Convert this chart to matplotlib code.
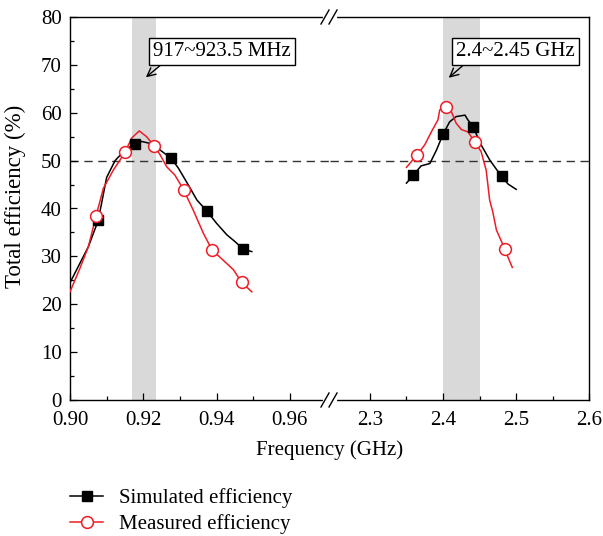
import matplotlib
matplotlib.use("Agg")
import matplotlib.pyplot as plt
from matplotlib.lines import Line2D

plt.rcParams['font.family'] = ['Liberation Serif', 'DejaVu Serif']
plt.rcParams['font.size'] = 15

# ---- 900 MHz band ----
low_sim_f = [0.9000, 0.9050, 0.9077, 0.9100, 0.9123, 0.9150, 0.9177, 0.9196, 0.9218,
             0.9246, 0.9276, 0.9296, 0.9323, 0.9346, 0.9373, 0.9400, 0.9428, 0.9450,
             0.9473, 0.9496]
low_sim_v = [24.5, 32.0, 37.5, 46.5, 50.0, 52.2, 53.5, 54.0, 53.6,
             52.2, 50.5, 48.4, 44.9, 41.8, 39.5, 36.9, 34.5, 33.1,
             31.5, 31.0]
low_sim_mark_f = [0.9077, 0.9177, 0.9276, 0.9373, 0.9473]
low_sim_mark_v = [37.5, 53.5, 50.5, 39.5, 31.5]

low_meas_f = [0.9000, 0.9027, 0.9050, 0.9071, 0.9091, 0.9118, 0.9150, 0.9168, 0.9189,
              0.9209, 0.9230, 0.9246, 0.9264, 0.9286, 0.9310, 0.9336, 0.9364, 0.9388,
              0.9418, 0.9446, 0.9468, 0.9496]
low_meas_v = [22.6, 27.5, 32.0, 38.4, 44.2, 48.0, 51.7, 54.7, 56.2,
              55.0, 53.0, 51.2, 48.7, 47.0, 43.9, 39.7, 34.8, 31.3,
              29.2, 27.2, 24.6, 22.6]
low_meas_mark_f = [0.9071, 0.9150, 0.9230, 0.9310, 0.9388, 0.9468]
low_meas_mark_v = [38.4, 51.7, 53.0, 43.9, 31.3, 24.6]

# ---- 2.4 GHz band ----
high_sim_f = [2.350, 2.359, 2.370, 2.382, 2.391, 2.400, 2.409, 2.418, 2.430, 2.434,
              2.441, 2.452, 2.464, 2.480, 2.489, 2.500]
high_sim_v = [45.3, 46.9, 48.9, 49.4, 52.2, 55.5, 58.1, 59.2, 59.5, 58.5,
              57.1, 53.3, 50.1, 46.7, 45.1, 44.0]
high_sim_mark_f = [2.359, 2.400, 2.441, 2.480]
high_sim_mark_v = [46.9, 55.5, 57.1, 46.7]

high_meas_f = [2.350, 2.3645, 2.375, 2.384, 2.393, 2.3955, 2.4046, 2.4115, 2.418, 2.425,
               2.434, 2.444, 2.452, 2.459, 2.4637, 2.468, 2.473, 2.480, 2.4842, 2.4947]
high_meas_v = [48.6, 51.2, 53.3, 56.0, 58.5, 60.6, 61.3, 60.2, 57.8, 56.5,
               56.0, 53.8, 51.9, 48.0, 41.8, 39.3, 35.5, 33.1, 31.5, 27.7]
high_meas_mark_f = [2.3645, 2.4046, 2.444, 2.4842]
high_meas_mark_v = [51.2, 61.3, 53.8, 31.5]

low_band = (0.917, 0.9235)
high_band = (2.40, 2.45)
low_ticks = [0.90, 0.92, 0.94, 0.96]
low_tick_labels = ['0.90', '0.92', '0.94', '0.96']
high_ticks = [2.3, 2.4, 2.5, 2.6]
high_tick_labels = ['2.3', '2.4', '2.5', '2.6']
y_ticks = [0, 10, 20, 30, 40, 50, 60, 70, 80]
ref_level = 50

RED = '#ee1c25'
W, H = 603, 536
fig = plt.figure(figsize=(W / 100, H / 100), dpi=100)

ax1 = fig.add_axes([70 / W, 136 / H, 260 / W, 383 / H])
ax2 = fig.add_axes([330 / W, 136 / H, 259.3 / W, 383 / H], sharey=ax1)

ax1.set_xlim(0.90, 0.90 + 260 / 3665)
ax2.set_xlim(2.3 - 40 / 733, 2.6)
ax1.set_ylim(0, 80)

for ax in (ax1, ax2):
    ax.set_facecolor('none')
    ax.tick_params(direction='in', which='major', length=5, width=0.9, top=False, right=False)
    ax.tick_params(direction='in', which='minor', length=3, width=0.9, top=False, right=False)
    ax.tick_params(axis='x', which='major', pad=8)
    ax.tick_params(axis='y', which='major', pad=6)
    for s in ax.spines.values():
        s.set_linewidth(1.0)

ax1.spines['right'].set_visible(False)
ax2.spines['left'].set_visible(False)
ax2.tick_params(axis='y', which='both', left=False, labelleft=False)

ax1.set_yticks(y_ticks)
ax1.set_yticks([v + 5 for v in y_ticks[:-1]], minor=True)
ax1.set_xticks(low_ticks)
ax1.set_xticklabels(low_tick_labels)
ax1.set_xticks([0.91, 0.93, 0.95], minor=True)
ax2.set_xticks(high_ticks)
ax2.set_xticklabels(high_tick_labels)
ax2.set_xticks([2.35, 2.45, 2.55], minor=True)

# shaded operating bands
ax1.axvspan(*low_band, color='#d9d9d9', lw=0, zorder=0)
ax2.axvspan(*high_band, color='#d9d9d9', lw=0, zorder=0)

# 50 % reference line
for ax in (ax1, ax2):
    ax.axhline(ref_level, color='#333333', lw=1.0, dashes=(6, 4), zorder=1)

# curves
ax1.plot(low_sim_f, low_sim_v, color='black', lw=1.1, zorder=3)
ax1.plot(low_meas_f, low_meas_v, color=RED, lw=1.1, zorder=3)
ax2.plot(high_sim_f, high_sim_v, color='black', lw=1.1, zorder=3)
ax2.plot(high_meas_f, high_meas_v, color=RED, lw=1.1, zorder=3)

sq = dict(ls='none', marker='s', ms=7.5, mfc='black', mec='black', zorder=4)
ci = dict(ls='none', marker='o', ms=8.5, mfc='white', mec=RED, mew=1.1, zorder=5)
ax1.plot(low_sim_mark_f, low_sim_mark_v, **sq)
ax1.plot(low_meas_mark_f, low_meas_mark_v, **ci)
ax2.plot(high_sim_mark_f, high_sim_mark_v, **sq)
ax2.plot(high_meas_mark_f, high_meas_mark_v, **ci)

# band annotations
box = dict(boxstyle='square,pad=0.2', fc='white', ec='black', lw=1.0)
ax1.annotate('917~923.5 MHz', xy=(0.9207, 67.4), xytext=(0.9415, 72.8),
             ha='center', va='center', bbox=box,
             arrowprops=dict(arrowstyle='->', color='black', lw=1.0,
                             relpos=(0.09, 0.0), shrinkA=0, shrinkB=0),
             zorder=6)
ax2.annotate('2.4~2.45 GHz', xy=(2.4078, 67.3), xytext=(2.4992, 72.8),
             ha='center', va='center', bbox=box,
             arrowprops=dict(arrowstyle='->', color='black', lw=1.0,
                             relpos=(0.10, 0.0), shrinkA=0, shrinkB=0),
             zorder=6)

# axis break marks
for yb in (400, 17):
    yf = 1 - yb / H
    fig.add_artist(Line2D([325 / W, 335 / W], [yf, yf], color='white', lw=3,
                          transform=fig.transFigure, zorder=10))
    for xc in (325, 333):
        fig.add_artist(Line2D([(xc - 4) / W, (xc + 4) / W], [yf - 7 / H, yf + 7 / H],
                              color='black', lw=1.0, transform=fig.transFigure, zorder=11))

fig.text(330 / W, 1 - 450 / H, 'Frequency (GHz)', ha='center', va='center')
fig.text(15 / W, 1 - 196 / H, 'Total efficiency (%)', ha='center', va='center',
         rotation=90, fontsize=16.5)

handles = [
    Line2D([], [], color='black', lw=1.1, marker='s', ms=7.5, mfc='black', mec='black'),
    Line2D([], [], color=RED, lw=1.1, marker='o', ms=8.5, mfc='white', mec=RED, mew=1.1),
]
fig.legend(handles, ['Simulated efficiency', 'Measured efficiency'],
           loc='upper left', bbox_to_anchor=(70 / W, 1 - 488 / H), frameon=False,
           borderaxespad=0, handlelength=1.6, handletextpad=0.75, labelspacing=0.32,
           borderpad=0)

fig.savefig('out.png', dpi=100)
